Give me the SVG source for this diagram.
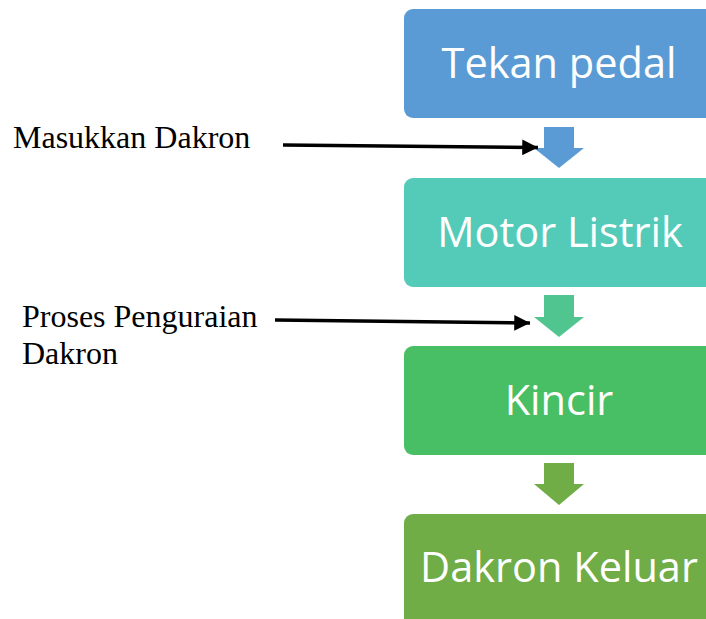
<svg xmlns="http://www.w3.org/2000/svg" width="706" height="619" viewBox="0 0 706 619">
<defs>
<style>
.box-text{font-family:"Open Sans","Noto Sans",sans-serif;font-size:41.5px;fill:#ffffff;text-anchor:middle}
.label{font-family:"Liberation Serif","Times New Roman",serif;font-size:32px;fill:#000000}
.conn{stroke:#000000;stroke-width:3.5;fill:none}
</style>
<marker id="ah" viewBox="0 0 10 10" refX="10" refY="5" markerWidth="4.5" markerHeight="4.5" orient="auto" markerUnits="strokeWidth">
<path d="M0,0 L10,5 L0,10 Z" fill="#000000"/>
</marker>
</defs>
<rect width="706" height="619" fill="#ffffff"/>
<g id="node-tekan-pedal">
<rect x="404" y="9" width="312" height="109" rx="9" fill="#5B9BD5"/>
<text class="box-text" x="559" y="78">Tekan pedal</text>
</g>
<g id="node-motor-listrik">
<rect x="404" y="178" width="312" height="109" rx="9" fill="#53CBB8"/>
<text class="box-text" x="560" y="247">Motor Listrik</text>
</g>
<g id="node-kincir">
<rect x="404" y="346" width="312" height="109" rx="9" fill="#48BF64"/>
<text class="box-text" x="559" y="415">Kincir</text>
</g>
<g id="node-dakron-keluar">
<rect x="404" y="514" width="312" height="115" rx="9" fill="#70AD47"/>
<text class="box-text" x="559" y="582">Dakron Keluar</text>
</g>
<g id="block-arrows">
<polygon points="544,127 574,127 574,148 584,148 559,168 534,148 544,148" fill="#5B9BD5"/>
<polygon points="544,295 574,295 574,317 584,317 559,337 534,317 544,317" fill="#50C58F"/>
<polygon points="544,463 574,463 574,484 584,484 559,505 534,484 544,484" fill="#70AD47"/>
</g>
<g id="label-masukkan">
<text class="label" x="13" y="148">Masukkan Dakron</text>
</g>
<g id="label-proses">
<text class="label" x="22" y="327">Proses Penguraian</text>
<text class="label" x="22" y="364">Dakron</text>
</g>
<g id="connectors">
<line class="conn" x1="283" y1="145" x2="538" y2="147.5" marker-end="url(#ah)"/>
<line class="conn" x1="275" y1="320" x2="530" y2="323" marker-end="url(#ah)"/>
</g>
</svg>
